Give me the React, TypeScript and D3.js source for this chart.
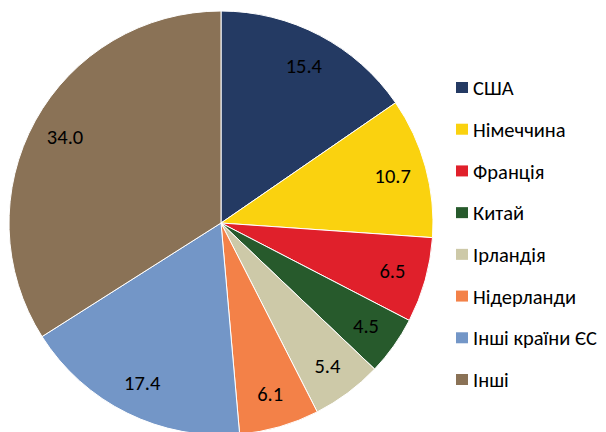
import React, { useEffect, useRef } from 'react';
import * as d3 from 'd3';

const countries = ['США', 'Німеччина', 'Франція', 'Китай', 'Ірландія', 'Нідерланди', 'Інші країни ЄС', 'Інші'];
const shares = [15.4, 10.7, 6.5, 4.5, 5.4, 6.1, 17.4, 34.0];
const colors = ['#243A63', '#FAD20F', '#E0202B', '#275A2C', '#CDC9A8', '#F38148', '#7396C7', '#8A7256'];

const App = () => {
  const svgRef = useRef<SVGSVGElement>(null);

  useEffect(() => {
    const width = 606;
    const height = 432;
    const cx = 221;
    const cy = 223;
    const radius = 212;
    const font = 'Carlito, "Open Sans", "Noto Sans", sans-serif';

    const root = d3.select(svgRef.current);
    root.selectAll('*').remove();
    root.attr('width', width).attr('height', height);

    const data = countries.map((name, i) => ({ name, value: shares[i], color: colors[i] }));

    const pie = d3
      .pie<any>()
      .sort(null)
      .value(d => d.value);
    const arcs = pie(data);

    const arc = d3.arc<any>().innerRadius(0).outerRadius(radius);
    const labelArc = d3.arc<any>().innerRadius(178).outerRadius(178);

    const g = root.append('g').attr('transform', `translate(${cx}, ${cy})`);

    g.selectAll('path')
      .data(arcs)
      .enter()
      .append('path')
      .attr('d', arc)
      .attr('fill', d => d.data.color)
      .attr('stroke', '#fff')
      .attr('stroke-width', 1);

    g.selectAll('.lbl')
      .data(arcs)
      .enter()
      .append('text')
      .attr('transform', d => `translate(${labelArc.centroid(d)})`)
      .attr('text-anchor', 'middle')
      .attr('dy', '0.35em')
      .style('font-family', font)
      .style('font-size', '20.5px')
      .style('fill', '#000')
      .text(d => d.data.value.toFixed(1));

    // legend
    const legendY = d3.scaleLinear().domain([0, countries.length - 1]).range([88, 380]);
    const legend = root
      .selectAll('.legend')
      .data(data)
      .enter()
      .append('g')
      .attr('transform', (_, i) => `translate(456, ${legendY(i)})`);

    legend
      .append('rect')
      .attr('x', 0)
      .attr('y', -6)
      .attr('width', 12)
      .attr('height', 11)
      .attr('fill', d => d.color);

    legend
      .append('text')
      .attr('x', 17)
      .attr('y', 0)
      .attr('dy', '0.35em')
      .style('font-family', font)
      .style('font-size', '20.5px')
      .style('fill', '#000')
      .text(d => d.name);
  }, []);

  return <svg ref={svgRef} style={{ position: 'absolute', left: 0, top: 0 }}></svg>;
};

export default App;
